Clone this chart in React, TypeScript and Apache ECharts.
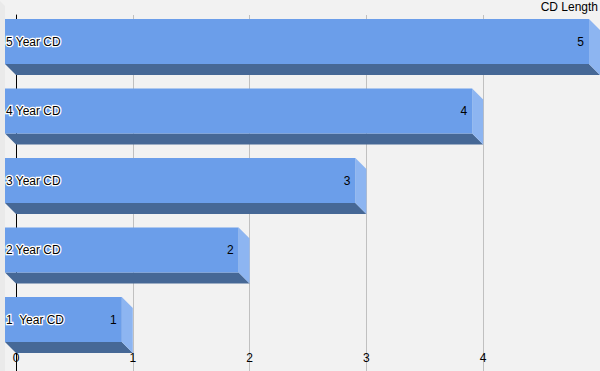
import React, { useEffect, useRef } from "react";
import * as echarts from "echarts";

const categories = ["1  Year CD", "2 Year CD", "3 Year CD", "4 Year CD", "5 Year CD"];
const values = [1, 2, 3, 4, 5];
const xTicks = [0, 1, 2, 3, 4, 5];
const axisName = "CD Length";

const FONT = "'Liberation Sans', Arial, sans-serif";
const FRONT = "#6b9eea";
const SIDE = "#8db5f1";
const BOTTOM = "#466896";
const DEPTH = 11;

export default function App() {
  const ref = useRef<HTMLDivElement>(null);
  useEffect(() => {
    if (!ref.current) return;
    const chart = echarts.init(ref.current, undefined, { renderer: "svg" });
    const data = values.map((v, i) => [v, i]);
    chart.setOption({
      animation: false,
      backgroundColor: "#f2f2f2",
      title: {
        text: axisName,
        right: 2,
        top: 1,
        padding: 0,
        textStyle: { fontFamily: FONT, fontSize: 12, fontWeight: "normal", color: "#000" },
      },
      graphic: [
        {
          type: "polygon",
          z: -1,
          shape: { points: [[0, 1], [5, 6], [5, 371], [0, 371]] },
          style: { fill: "#eaeaea" },
          silent: true,
        },
      ],
      grid: { left: 16, right: 0, top: 15, bottom: 0 },
      xAxis: {
        type: "value",
        min: xTicks[0],
        max: xTicks[xTicks.length - 1],
        interval: 1,
        axisLine: { show: false },
        axisTick: { show: false },
        splitLine: { show: true, lineStyle: { color: "#c0c0c0", width: 1 } },
        axisLabel: {
          inside: true,
          margin: 7,
          fontFamily: FONT,
          fontSize: 12,
          color: "#000",
          showMaxLabel: false,
        },
      },
      yAxis: {
        type: "value",
        min: -0.5827,
        max: 4.5396,
        axisLine: { show: true, onZero: false, lineStyle: { color: "#000", width: 1 } },
        axisTick: { show: false },
        axisLabel: { show: false },
        splitLine: { show: false },
      },
      series: [
        {
          type: "custom",
          data,
          renderItem: (params: any, api: any) => {
            const v = api.value(0);
            const idx = api.value(1);
            const p = api.coord([v, idx]);
            const p0 = api.coord([0, idx]);
            const unit = api.size([0, 1])[1];
            const h = (unit * 45) / 69.5;
            const d = DEPTH;
            const x0 = p0[0];
            const x1 = p[0];
            const top = p[1] - h / 2;
            const bot = p[1] + h / 2;
            const fx0 = x0 - d;
            const fx1 = x1 - d;
            const ft = top - d;
            const fb = bot - d;
            return {
              type: "group",
              children: [
                {
                  type: "polygon",
                  shape: { points: [[fx0, fb], [fx1, fb], [x1, bot], [x0, bot]] },
                  style: { fill: BOTTOM },
                },
                {
                  type: "polygon",
                  shape: { points: [[fx1, ft], [x1, top], [x1, bot], [fx1, fb]] },
                  style: { fill: SIDE },
                },
                {
                  type: "rect",
                  shape: { x: fx0, y: ft, width: fx1 - fx0, height: fb - ft },
                  style: { fill: FRONT },
                },
                {
                  type: "text",
                  style: {
                    x: fx1 - 5,
                    y: (ft + fb) / 2,
                    text: String(values[idx]),
                    align: "right",
                    verticalAlign: "middle",
                    fill: "#000",
                    font: "12px " + FONT,
                  },
                },
                {
                  type: "text",
                  style: {
                    x: fx0 + 1,
                    y: (ft + fb) / 2,
                    text: categories[idx],
                    align: "left",
                    verticalAlign: "middle",
                    fill: "#000",
                    stroke: "#ffffff",
                    lineWidth: 2.5,
                    font: "12px " + FONT,
                  },
                },
              ],
            };
          },
        },
      ],
    });
    return () => chart.dispose();
  }, []);
  return <div ref={ref} style={{ width: 600, height: 371, position: "absolute", left: 0, top: 0 }} />;
}
